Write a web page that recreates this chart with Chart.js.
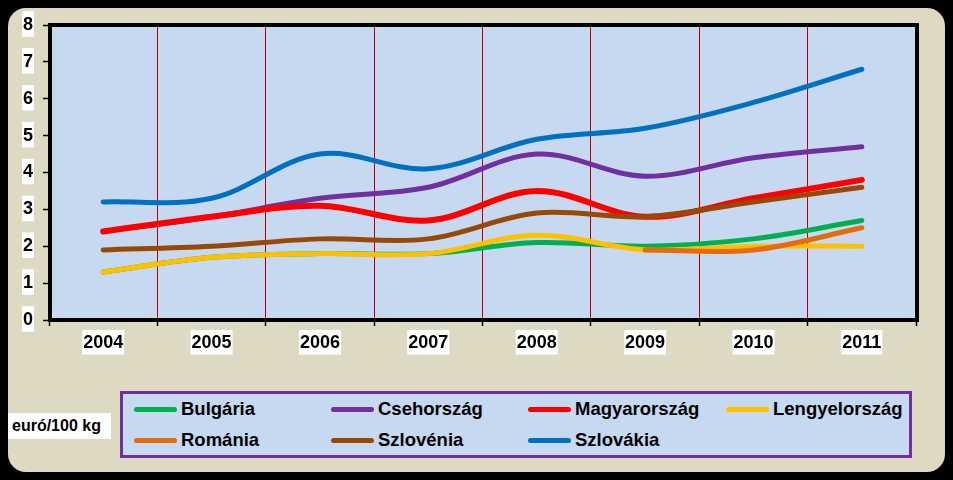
<!DOCTYPE html>
<html><head><meta charset="utf-8">
<script src="https://cdn.jsdelivr.net/npm/chart.js@4/dist/chart.umd.min.js"></script>
<style>
html,body{margin:0;padding:0;background:#000;width:953px;height:480px;overflow:hidden;font-family:"Liberation Sans",Arial,sans-serif;}
#panel{position:absolute;left:8px;top:8px;width:937px;height:464px;background:#DDD9C3;border-radius:18px;}
#c{position:absolute;left:0;top:0;}
#unit{position:absolute;left:8px;top:413px;width:103px;height:26px;background:#fff;font-weight:bold;font-size:16px;line-height:26px;padding-left:4px;box-sizing:border-box;color:#000;}
#legend{position:absolute;left:120px;top:391px;width:792px;height:67px;box-sizing:border-box;border:3px solid #7030A0;background:#C6D9F1;}
.item{position:absolute;height:20px;font-weight:bold;font-size:18.5px;line-height:20px;color:#000;}
.item .sw{position:absolute;left:0;top:8px;width:43px;height:5px;border-radius:3px;}
.item span{position:absolute;left:47px;top:0;white-space:nowrap;}
</style></head>
<body>
<div id="panel"></div>
<canvas id="c" width="953" height="480"></canvas>
<div id="unit">euró/100 kg</div>
<div id="legend"></div>
<script>
const years = ['2004','2005','2006','2007','2008','2009','2010','2011'];
const seriesNames = ['Bulgária','Csehország','Magyarország','Lengyelország','Románia','Szlovénia','Szlovákia'];
const seriesColors = ['#00B050','#7030A0','#FF0000','#FFC000','#E46C0A','#984807','#0070C0'];
const bulgaria    = [1.3, 1.7, 1.8, 1.8, 2.1, 2.0, 2.2, 2.7];
const csehorszag  = [2.4, 2.8, 3.3, 3.6, 4.5, 3.9, 4.4, 4.7];
const magyarorszag= [2.4, 2.8, 3.1, 2.7, 3.5, 2.8, 3.3, 3.8];
const lengyel     = [1.3, 1.7, 1.8, 1.8, 2.3, 1.9, 2.0, 2.0];
const romania     = [null, null, null, null, null, 1.9, 1.9, 2.5];
const szlovenia   = [1.9, 2.0, 2.2, 2.2, 2.9, 2.8, 3.2, 3.6];
const szlovakia   = [3.2, 3.3, 4.5, 4.1, 4.9, 5.2, 5.9, 6.8];
const yTicks = [0,1,2,3,4,5,6,7,8];

const allData = [bulgaria, csehorszag, magyarorszag, lengyel, romania, szlovenia, szlovakia];
const widths = [5, 5, 6, 5, 5, 5, 5];

const FONT = '"Liberation Sans", Arial, sans-serif';

const plotDeco = {
  id: 'plotDeco',
  beforeDraw(chart) {
    const {ctx, chartArea: a} = chart;
    ctx.save();
    ctx.fillStyle = '#C6D9F1';
    ctx.fillRect(a.left, a.top, a.right - a.left, a.bottom - a.top);
    ctx.restore();
  },
  beforeDatasetsDraw(chart) {
    const {ctx, chartArea: a} = chart;
    ctx.save();
    ctx.strokeStyle = '#000';
    ctx.lineWidth = 4;
    ctx.strokeRect(a.left + 1, a.top, a.right - a.left, a.bottom - a.top);
    ctx.restore();
  }
};

const datasets = seriesNames.map((n, i) => ({
  label: n,
  data: allData[i],
  borderColor: seriesColors[i],
  backgroundColor: seriesColors[i],
  borderWidth: widths[i],
  pointRadius: 0,
  pointHoverRadius: 0,
  tension: 0.35,
  fill: false,
  borderCapStyle: 'round',
  borderJoinStyle: 'round',
  order: seriesNames.length - i
}));

new Chart(document.getElementById('c'), {
  type: 'line',
  data: { labels: years, datasets },
  options: {
    responsive: false,
    animation: false,
    devicePixelRatio: 1,
    layout: { padding: { left: 0, right: 37, top: 25, bottom: 0 } },
    plugins: { legend: { display: false }, tooltip: { enabled: false } },
    scales: {
      x: {
        type: 'category',
        offset: true,
        afterFit(s) { s.height = 160; },
        grid: { display: true, offset: true, color: '#C00000', lineWidth: 1, drawOnChartArea: true, drawTicks: true, tickLength: 6, tickColor: '#000', tickWidth: 1.5 },
        border: { display: false },
        ticks: {
          color: '#000', font: { family: FONT, size: 18, weight: 'bold' }, padding: 6, maxRotation: 0, autoSkip: false,
          showLabelBackdrop: true, backdropColor: '#fff', backdropPadding: { top: 2, bottom: 1, left: 1, right: 1 }
        }
      },
      y: {
        min: 0, max: 8,
        afterFit(s) { s.width = 49; },
        afterBuildTicks(s) { s.ticks = yTicks.map(v => ({ value: v })); },
        grid: { display: true, drawOnChartArea: false, drawTicks: true, tickLength: 6, tickColor: '#000', tickWidth: 1.5 },
        border: { display: false },
        ticks: {
          color: '#000', font: { family: FONT, size: 18, weight: 'bold' }, padding: 10,
          showLabelBackdrop: true, backdropColor: '#fff', backdropPadding: { top: 3, bottom: 1, left: 1, right: 1 }
        }
      }
    }
  },
  plugins: [plotDeco]
});

// HTML legend built from series arrays
const legend = document.getElementById('legend');
const colX = [11, 208, 405, 603];
const rowY = [5, 36];
seriesNames.forEach((n, i) => {
  const d = document.createElement('div');
  d.className = 'item';
  d.style.left = colX[i % 4] + 'px';
  d.style.top = rowY[Math.floor(i / 4)] + 'px';
  d.innerHTML = '<div class="sw" style="background:' + seriesColors[i] + '"></div><span>' + n + '</span>';
  legend.appendChild(d);
});
</script>
</body></html>
